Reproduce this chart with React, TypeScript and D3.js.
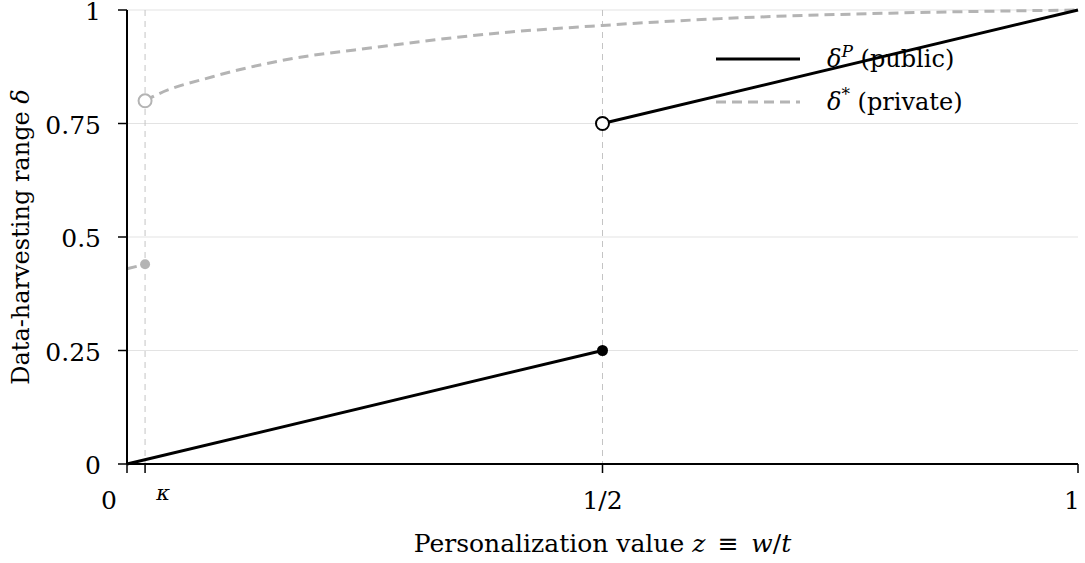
import React from 'react';
import * as d3 from 'd3';

// chart values
const KAPPA = 0.019;
const xTicks = [0, KAPPA, 0.5, 1];
const xTickLabels = ['0', 'κ', '1/2', '1'];
const yTicks = [0, 0.25, 0.5, 0.75, 1];
const yTickLabels = ['0', '0.25', '0.5', '0.75', '1'];
const guideZ = [KAPPA, 0.5];

type Pt = { z: number; d: number };

const publicLow: Pt[] = [{ z: 0, d: 0 }, { z: 0.5, d: 0.25 }];
const publicHigh: Pt[] = [{ z: 0.5, d: 0.75 }, { z: 1, d: 1 }];
const privateLow: Pt[] = [{ z: 0, d: 0.43 }, { z: KAPPA, d: 0.44 }];
const privateHigh: Pt[] = [
    { z: KAPPA, d: 0.8 },
    { z: 0.031, d: 0.813 },
    { z: 0.09, d: 0.853 },
    { z: 0.161, d: 0.888 },
    { z: 0.266, d: 0.919 },
    { z: 0.379, d: 0.947 },
    { z: 0.5, d: 0.966 },
    { z: 0.624, d: 0.981 },
    { z: 0.802, d: 0.993 },
    { z: 1, d: 1 },
];

const BLACK = '#000000';
const GREY = '#b4b4b4';
const FONT = '"DejaVu Serif", serif';
const FS = 25;

export default function App() {
    const width = 1085;
    const height = 563;
    const margin = { left: 127, right: 7, top: 10, bottom: 99 };

    const x = d3.scaleLinear().domain([0, 1]).range([margin.left, width - margin.right]);
    const y = d3.scaleLinear().domain([0, 1]).range([height - margin.bottom, margin.top]);

    const line = d3.line<Pt>().x((p) => x(p.z)).y((p) => y(p.d));
    const curve = d3.line<Pt>().x((p) => x(p.z)).y((p) => y(p.d)).curve(d3.curveMonotoneX);

    // tick label nudges, as in the reference (0 left of its tick, kappa right of it)
    const xLabelShift = [-18, 18, 0, -6];

    return (
        <svg width={width} height={height} style={{ position: 'absolute', left: 0, top: 0 }}
            fontFamily={FONT}>
            <rect width={width} height={height} fill="#fff" />

            {/* grid */}
            {yTicks.slice(1).map((t) => (
                <line key={'g' + t} x1={x(0)} x2={x(1)} y1={y(t)} y2={y(t)}
                    stroke="#e3e3e3" strokeWidth={1} />
            ))}
            {guideZ.map((z) => (
                <line key={'v' + z} x1={x(z)} x2={x(z)} y1={y(1)} y2={y(0)}
                    stroke="#c4c4c4" strokeWidth={1} strokeDasharray="6,5" />
            ))}

            {/* legend */}
            <line x1={716} x2={800} y1={59} y2={59} stroke={BLACK} strokeWidth={3} />
            <line x1={716} x2={800} y1={102} y2={102} stroke={GREY} strokeWidth={3} strokeDasharray="10,6" />
            <text x={827} y={67} fontSize={FS - 1}>
                <tspan fontStyle="italic">δ</tspan>
                <tspan fontStyle="italic" fontSize={17} dy={-10}>P</tspan>
                <tspan dy={10}> (public)</tspan>
            </text>
            <text x={827} y={110} fontSize={FS - 1}>
                <tspan fontStyle="italic">δ</tspan>
                <tspan fontSize={17} dy={-10}>*</tspan>
                <tspan dy={10}> (private)</tspan>
            </text>

            {/* private */}
            <path d={line(privateLow) ?? ''} fill="none" stroke={GREY} strokeWidth={3} strokeDasharray="10,6" />
            <path d={curve(privateHigh) ?? ''} fill="none" stroke={GREY} strokeWidth={3} strokeDasharray="10,6" />

            {/* public */}
            <path d={line(publicLow) ?? ''} fill="none" stroke={BLACK} strokeWidth={3} />
            <path d={line(publicHigh) ?? ''} fill="none" stroke={BLACK} strokeWidth={3} />

            {/* axes */}
            <line x1={x(0)} x2={x(0)} y1={y(1)} y2={y(0)} stroke={BLACK} strokeWidth={2} />
            <line x1={x(0)} x2={x(1)} y1={y(0)} y2={y(0)} stroke={BLACK} strokeWidth={2} />
            {yTicks.map((t, i) => (
                <g key={'yt' + t}>
                    <line x1={x(0) - 9} x2={x(0)} y1={y(t)} y2={y(t)} stroke={BLACK} strokeWidth={1.5} />
                    <text x={x(0) - 26} y={y(t) + 10} fontSize={FS} textAnchor="end">{yTickLabels[i]}</text>
                </g>
            ))}
            {xTicks.map((t, i) => (
                <g key={'xt' + t}>
                    <line x1={x(t)} x2={x(t)} y1={y(0)} y2={y(0) + 9} stroke={BLACK} strokeWidth={1.5} />
                    <text x={x(t) + xLabelShift[i]} y={y(0) + (i === 1 ? 36 : 45)}
                        fontSize={i === 1 ? 21 : FS} textAnchor="middle"
                        fontStyle={i === 1 ? 'italic' : 'normal'}>{xTickLabels[i]}</text>
                </g>
            ))}

            {/* markers */}
            <circle cx={x(KAPPA)} cy={y(privateHigh[0].d)} r={6.5} fill="#fff" stroke={GREY} strokeWidth={2} />
            <circle cx={x(KAPPA)} cy={y(privateLow[1].d)} r={5} fill={GREY} />
            <circle cx={x(0.5)} cy={y(publicHigh[0].d)} r={6.5} fill="#fff" stroke={BLACK} strokeWidth={2} />
            <circle cx={x(0.5)} cy={y(publicLow[1].d)} r={5.5} fill={BLACK} />

            {/* axis titles */}
            <text x={x(0.5)} y={552} fontSize={FS} textAnchor="middle">
                Personalization value <tspan fontStyle="italic">z</tspan>{'\u2002≡\u2002'}<tspan fontStyle="italic">w</tspan>/<tspan fontStyle="italic">t</tspan>
            </text>
            <text transform={`translate(29, ${(y(0) + y(1)) / 2}) rotate(-90)`} fontSize={FS - 1} textAnchor="middle">
                Data-harvesting range <tspan fontStyle="italic">δ</tspan>
            </text>
        </svg>
    );
}
